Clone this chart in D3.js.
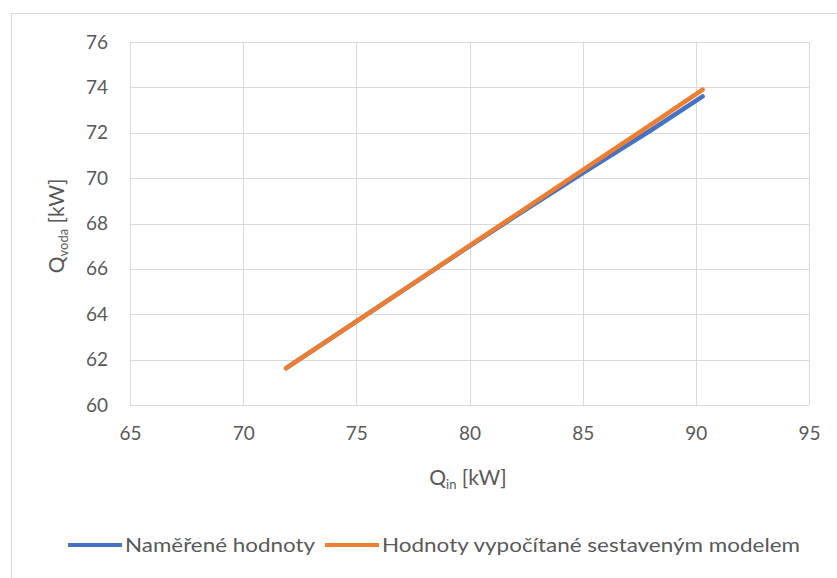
<!DOCTYPE html>
<html>
<head>
<meta charset="utf-8">
<script src="https://cdn.jsdelivr.net/npm/d3@7"></script>
<style>
  body { margin: 0; background: #fff; }
  svg { display: block; }
  text { font-family: Lato, "Open Sans", sans-serif; fill: #595959; }
</style>
</head>
<body>
<div id="chart"></div>
<script>
const xTicks = [65, 70, 75, 80, 85, 90, 95];
const yTicks = [60, 62, 64, 66, 68, 70, 72, 74, 76];

// Naměřené hodnoty (measured)
const measuredX = [71.9, 76, 80, 82, 85, 88, 90.3];
const measuredY = [61.62, 64.35, 67.0, 68.3, 70.22, 72.1, 73.6];

// Hodnoty vypočítané sestaveným modelem (model)
const modelX = [71.9, 76, 80, 82, 85, 88, 90.3];
const modelY = [61.62, 64.35, 67.02, 68.35, 70.35, 72.35, 73.9];

const seriesNames = ["Naměřené hodnoty", "Hodnoty vypočítané sestaveným modelem"];
const seriesColors = ["#4472c4", "#ed7d31"];

const width = 837;
const height = 578;
const plot = { left: 130, top: 42, right: 809, bottom: 405 };

const svg = d3.select("#chart")
              .append("svg")
              .attr("width", width)
              .attr("height", height);

svg.append("rect")
   .attr("x", 11.5)
   .attr("y", 13.5)
   .attr("width", width)
   .attr("height", height)
   .attr("fill", "#fff")
   .attr("stroke", "#d9d9d9");

const x = d3.scaleLinear().domain([65, 95]).range([plot.left, plot.right]);
const y = d3.scaleLinear().domain([60, 76]).range([plot.bottom, plot.top]);

// gridlines
svg.append("g")
   .selectAll("line")
   .data(xTicks)
   .enter()
   .append("line")
   .attr("x1", d => Math.round(x(d)) + 0.5)
   .attr("x2", d => Math.round(x(d)) + 0.5)
   .attr("y1", plot.top)
   .attr("y2", plot.bottom)
   .attr("stroke", "#d9d9d9");

svg.append("g")
   .selectAll("line")
   .data(yTicks)
   .enter()
   .append("line")
   .attr("x1", plot.left)
   .attr("x2", plot.right)
   .attr("y1", d => Math.round(y(d)) + 0.5)
   .attr("y2", d => Math.round(y(d)) + 0.5)
   .attr("stroke", "#d9d9d9");

// tick labels via axes
const xAxis = svg.append("g")
   .attr("transform", `translate(0, ${plot.bottom})`)
   .call(d3.axisBottom(x).tickValues(xTicks).tickSize(0).tickPadding(22));
const yAxis = svg.append("g")
   .attr("transform", `translate(${plot.left}, 0)`)
   .call(d3.axisLeft(y).tickValues(yTicks).tickSize(0).tickPadding(22));

[xAxis, yAxis].forEach(a => {
  a.select(".domain").remove();
  a.selectAll("text")
   .attr("font-size", 19)
   .attr("font-family", "Lato, 'Open Sans', sans-serif")
   .attr("fill", "#595959");
});

// lines
const line = d3.line().x(d => x(d[0])).y(d => y(d[1]));
const seriesData = [
  measuredX.map((v, i) => [v, measuredY[i]]),
  modelX.map((v, i) => [v, modelY[i]])
];

svg.append("g")
   .selectAll("path")
   .data(seriesData)
   .enter()
   .append("path")
   .attr("d", line)
   .attr("fill", "none")
   .attr("stroke", (d, i) => seriesColors[i])
   .attr("stroke-width", 4.5)
   .attr("stroke-linecap", "round")
   .attr("stroke-linejoin", "round");

// axis titles
const xt = svg.append("text")
   .attr("x", 468)
   .attr("y", 485)
   .attr("text-anchor", "middle")
   .attr("font-size", 21);
xt.append("tspan").text("Q");
xt.append("tspan").text("in").attr("font-size", 13).attr("dy", 4);
xt.append("tspan").text(" [kW]").attr("dy", -4);

const yt = svg.append("text")
   .attr("transform", "translate(64, 226) rotate(-90)")
   .attr("text-anchor", "middle")
   .attr("font-size", 21);
yt.append("tspan").text("Q");
yt.append("tspan").text("voda").attr("font-size", 13).attr("dy", 4);
yt.append("tspan").text(" [kW]").attr("dy", -4);

// legend
const legendItems = [
  { x: 68, textX: 125, w: 190 },
  { x: 325, textX: 382, w: 418 }
];
const legend = svg.append("g")
   .selectAll("g")
   .data(seriesNames)
   .enter()
   .append("g");

legend.append("line")
   .attr("x1", (d, i) => legendItems[i].x)
   .attr("x2", (d, i) => legendItems[i].x + 54)
   .attr("y1", 545)
   .attr("y2", 545)
   .attr("stroke", (d, i) => seriesColors[i])
   .attr("stroke-width", 4);

legend.append("text")
   .text(d => d)
   .attr("x", (d, i) => legendItems[i].textX)
   .attr("y", 552)
   .attr("font-size", 19)
   .attr("textLength", (d, i) => legendItems[i].w)
   .attr("lengthAdjust", "spacingAndGlyphs");
</script>
</body>
</html>
